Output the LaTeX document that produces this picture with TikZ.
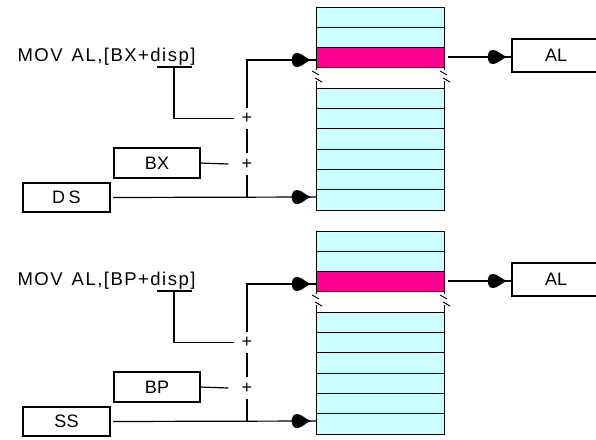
\documentclass[tikz,border=0pt]{standalone}
\usepackage{fontspec}
\setmainfont{Liberation Sans}
\usetikzlibrary{decorations.markings}
\definecolor{cellcyan}{RGB}{204,255,255}
\definecolor{cellpink}{RGB}{255,0,144}

\begin{document}
\begin{tikzpicture}[x=1pt,y=-1pt,line width=1.2pt,
  cell/.style={draw,fill=cellcyan,line width=1pt},
  selcell/.style={draw,fill=cellpink,line width=1pt,minimum width=128pt,
    minimum height=20.3pt,inner sep=0pt,outer sep=0pt,anchor=north west},
  reg/.style={draw,inner sep=0pt,outer sep=0pt,anchor=north west,
    font=\fontsize{18}{18}\selectfont},
  instr/.style={anchor=base west,inner sep=0pt,
    font=\fontsize{18.5}{18.5}\selectfont\addfontfeature{LetterSpace=8}},
  plus/.style={inner sep=0pt,minimum size=20pt,font=\fontsize{18}{18}\selectfont},
  breakmark/.style={line width=0.9pt},
  feed/.style={postaction={decorate},decoration={markings,
    mark=at position -5pt with {\fill (0pt,0pt) .. controls (-6pt,2pt) and (-9pt,7pt) .. (-14pt,7pt)
      .. controls (-21pt,7.5pt) and (-21pt,-7.5pt) .. (-14pt,-7pt)
      .. controls (-9pt,-7pt) and (-6pt,-2pt) .. (0pt,0pt) -- cycle;}}},
]
\useasboundingbox (0,0) rectangle (596,439);
\foreach \i/\o/\ix/\sg in {1/0/BX/{D\hspace{3.5pt}S},2/224/BP/SS}{
\begin{scope}[yshift=-\o pt]
  % memory column: two cells, selected cell, elided gap, six cells
  \foreach \t in {7,27.3} \draw[cell] (316,\t) rectangle ++(128,20.3);
  \node[selcell] (sel\i) at (316,47.6) {};
  \foreach \k in {0,...,5} \draw[cell] (316,88.2+20.3*\k) rectangle ++(128,20.3);
  \foreach \ex in {316,444}{
    \draw[line width=1pt] (\ex,67.9) -- (\ex,70);
    \draw[line width=1pt] (\ex,81) -- (\ex,88.2);
    \draw[breakmark] (\ex-4,71) -- (\ex+3,75);
    \draw[breakmark] (\ex-1,78) -- (\ex+6,82);
  }
  % registers and instruction
  \node[instr] (mov\i) at (17,61) {MOV\hspace{9pt}AL,[\ix+disp]};
  \draw (157,67) -- (192,67);
  \coordinate (ul\i) at (174,67);
  \node[reg,minimum width=86pt,minimum height=30pt] (bx\i) at (114,148) {\ix};
  \node[reg,minimum width=87pt,minimum height=29pt] (ds\i) at (23,183) {\sg};
  \node[reg,minimum width=88pt,minimum height=33pt] (al\i) at (512,39) {AL};
  \node[plus] (pa\i) at (247,118.5) {+};
  \node[plus] (pb\i) at (247,164) {+};
  \coordinate (in\i) at (316,60);
  \coordinate (base\i) at (316,197);
  \coordinate (out\i) at (444,57);
  \coordinate (j\i) at (247,197);
  % address computation and data paths
  \draw (ul\i) |- ([xshift=-2pt]pa\i.west);
  \draw (bx\i.east) -- ([xshift=-8pt]pb\i.west);
  \draw[feed] (pa\i.north) |- (in\i);
  \draw (pa\i.south) -- (pb\i.north);
  \draw (pb\i.south) -- (j\i);
  \draw[feed,shorten <=3pt] (ds\i.east) -- (base\i);
  \draw[feed,shorten <=4pt] (out\i) -- (al\i.west |- out\i);
\end{scope}}
\end{tikzpicture}
\end{document}
